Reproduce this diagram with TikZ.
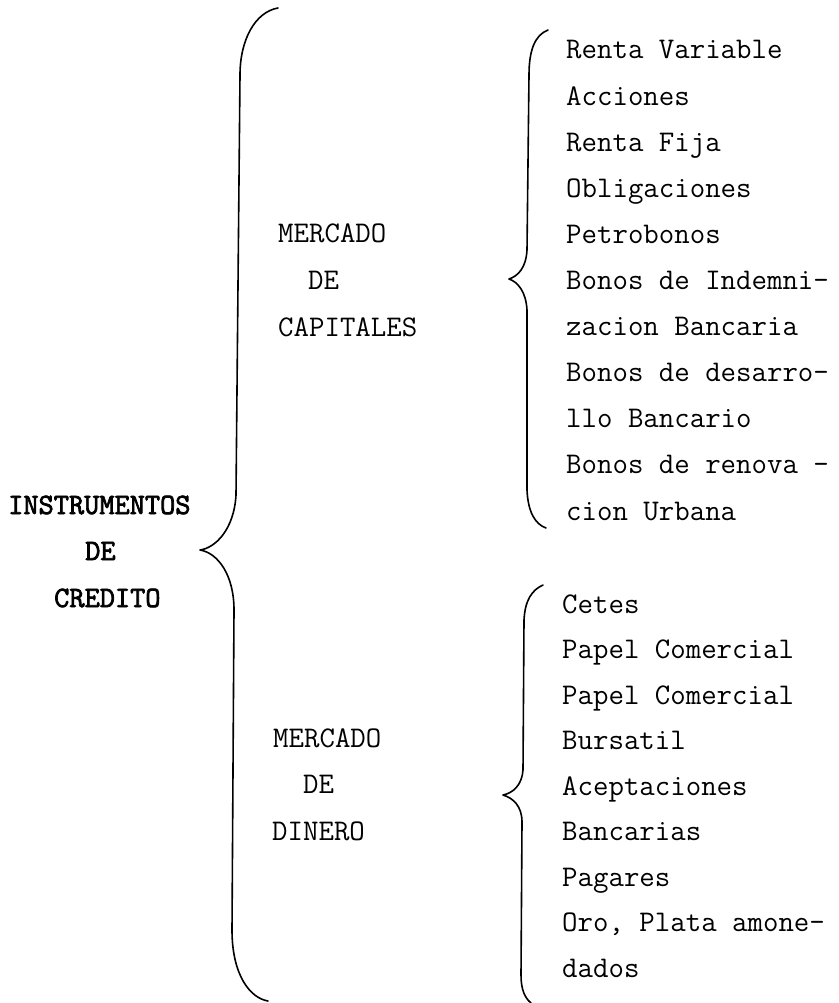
\documentclass[tikz,border=0pt]{standalone}
\usepackage{fontspec}
\newfontfamily\bmono{Latin Modern Mono}[FakeBold=2.5]
\begin{document}
\begin{tikzpicture}[x=1pt,y=-1pt,
  txt/.style={anchor=base west,inner sep=0pt,font={\ttfamily\fontsize{30}{34}\selectfont}},
  btxt/.style={txt,font={\bmono\fontsize{29.5}{34}\selectfont}},
  bracel/.style={line width=1.6pt,line cap=round,line join=round}]
\useasboundingbox[fill=white] (0,0) rectangle (838,1003);
% braces
\draw[bracel] (278,8) .. controls (255,12) and (240,40) .. (240,75) -- (236,495)
  .. controls (234,530) and (215,548) .. (200,550)
  .. controls (218,553) and (234,575) .. (234,610) -- (232,930)
  .. controls (232,975) and (250,998) .. (268,1001);
\draw[bracel] (548,30) .. controls (535,35) and (529,50) .. (529,75) -- (527,250)
  .. controls (526,268) and (518,276) .. (509,279)
  .. controls (518,282) and (526,292) .. (527,310) -- (527,490)
  .. controls (528,512) and (535,524) .. (546,528);
\draw[bracel] (543,585) .. controls (532,590) and (525,600) .. (524,620) -- (523,770)
  .. controls (522,785) and (513,793) .. (503,795)
  .. controls (513,798) and (522,806) .. (522,822) -- (521,975)
  .. controls (521,990) and (525,998) .. (531,1003);
% root
\node[btxt] (r1) at (8,514) {INSTRUMENTOS};
\node[btxt] (r2) at (85,560) {DE};
\node[btxt] (r3) at (54,607) {CREDITO};
% level 2
\node[txt] (c1) at (278,242) {MERCADO};
\node[txt] (c2) at (308,289) {DE};
\node[txt] (c3) at (278,336) {CAPITALES};
\node[txt] (d1) at (273,747) {MERCADO};
\node[txt] (d2) at (303,793) {DE};
\node[txt] (d3) at (272,840) {DINERO};
% capitales list
\foreach \t [count=\i from 0] in {Renta Variable,Acciones,Renta Fija,Obligaciones,Petrobonos,Bonos de Indemni-,zacion Bancaria,Bonos de desarro-,llo Bancario,Bonos de renova -,cion Urbana}
  \node[txt] (ca\i) at (566,59+46.1*\i) {\t};
% dinero list
\foreach \t [count=\i from 0] in {Cetes,Papel Comercial,Papel Comercial,Bursatil,Aceptaciones,Bancarias,Pagares,{Oro, Plata amone-},dados}
  \node[txt] (di\i) at (562,613+45.5*\i) {\t};
\end{tikzpicture}
\end{document}
